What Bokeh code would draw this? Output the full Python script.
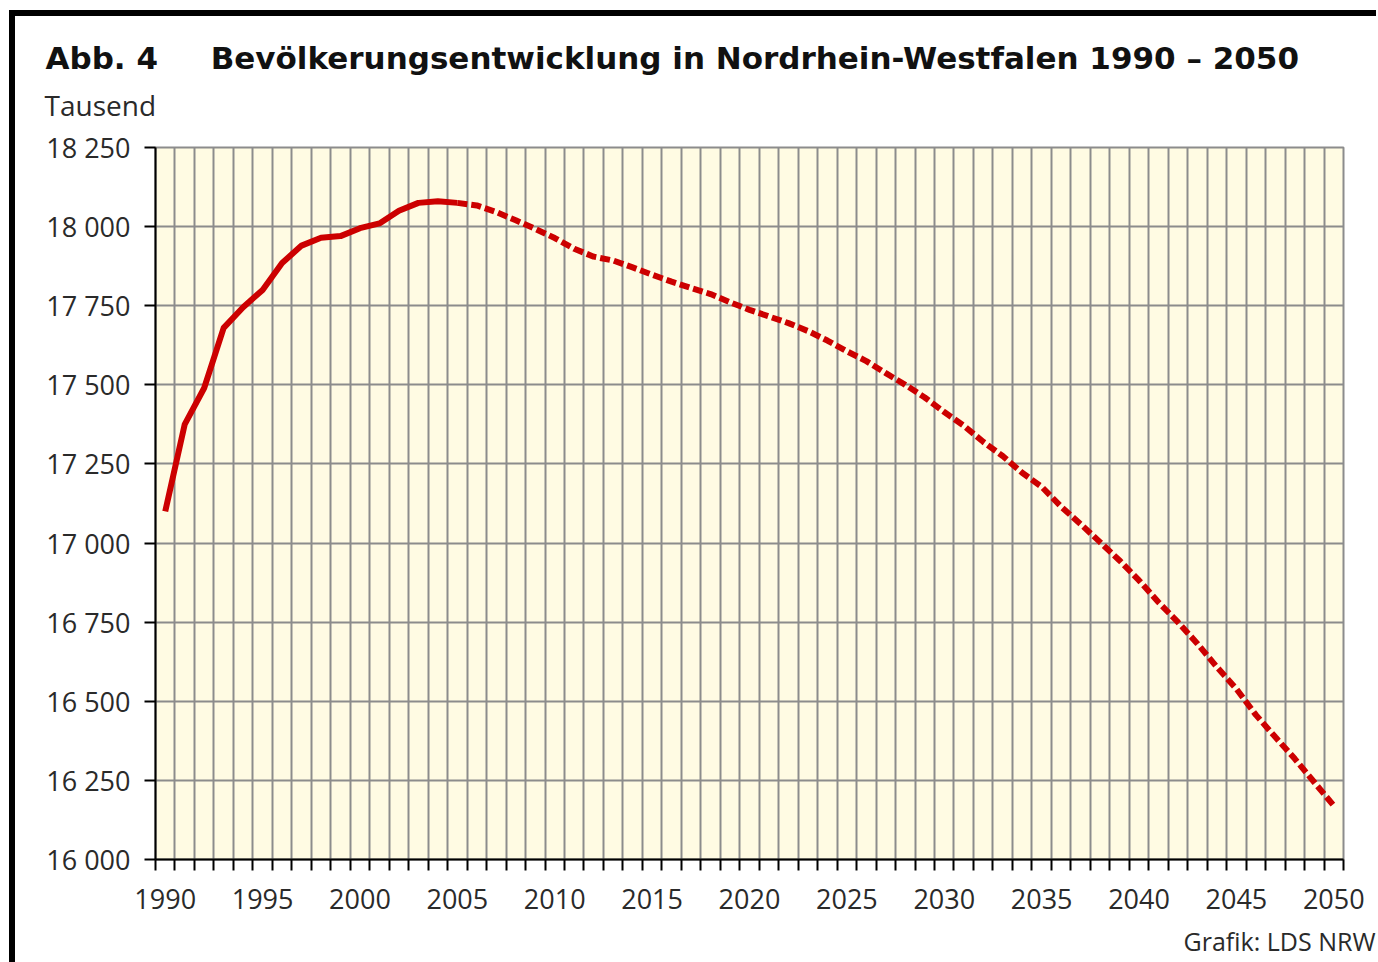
from bokeh.plotting import figure
from bokeh.models import FixedTicker, Range1d, ColumnDataSource, Title
from bokeh.embed import file_html
from bokeh.resources import INLINE

# ---- data ----
years = list(range(1990, 2051))
population = [
    17100, 17375, 17490, 17680, 17745, 17800, 17885, 17940, 17965, 17970,
    17995, 18010, 18050, 18075, 18080, 18075, 18067, 18046, 18020, 17993,
    17964, 17930, 17905, 17893, 17871, 17848, 17826, 17806, 17787, 17761,
    17737, 17716, 17695, 17670, 17640, 17606, 17575, 17537, 17500, 17460,
    17414, 17371, 17320, 17275, 17222, 17178, 17115, 17060, 17003, 16945,
    16882, 16813, 16750, 16682, 16608, 16539, 16457, 16387, 16318, 16244,
    16170,
]
projection_start = 2005
x_label_years = [1990, 1995, 2000, 2005, 2010, 2015, 2020, 2025, 2030, 2035, 2040, 2045, 2050]
y_ticks = [16000, 16250, 16500, 16750, 17000, 17250, 17500, 17750, 18000, 18250]
y_tick_labels = ["16 000", "16 250", "16 500", "16 750", "17 000", "17 250", "17 500", "17 750", "18 000", "18 250"]

title_prefix = "Abb. 4"
title_text = "Bevölkerungsentwicklung in Nordrhein-Westfalen 1990 – 2050"
unit_text = "Tausend"
source_text = "Grafik: LDS NRW"

# ---- build ----
split = years.index(projection_start)
src_actual = ColumnDataSource(dict(x=years[:split + 1], y=population[:split + 1]))
src_proj = ColumnDataSource(dict(x=years[split:], y=population[split:]))

boundaries = [y - 0.5 for y in years] + [years[-1] + 0.5]

FONT = "Open Sans"
TITLE_FONT = "DejaVu Sans"
GRID = "#8c8c8c"
TXT = "#2a2a2a"

p = figure(
    frame_width=1188, frame_height=712,
    x_range=Range1d(boundaries[0], boundaries[-1]),
    y_range=Range1d(y_ticks[0], y_ticks[-1]),
    output_backend="svg", toolbar_location=None,
    min_border_left=140, min_border_right=33, min_border_top=131, min_border_bottom=100,
    background_fill_color="#FFFBE3", border_fill_color="white",
    outline_line_color=GRID, outline_line_width=2,
)
p.styles = {"border-left": "6px solid black", "border-top": "6px solid black",
            "margin-left": "9px", "margin-top": "10px"}

# titles: p.title is the outermost line, added titles sit nearer the frame
p.title.text = title_prefix + "\u2003\u2002\u2009" + title_text
p.title.text_font = TITLE_FONT
p.title.text_font_style = "bold"
p.title.text_font_size = "31px"
p.title.text_color = "#111111"
p.title.align = "left"
p.title.offset = -110
p.title.standoff = -32

unit = Title(text=unit_text, text_font=FONT, text_font_style="normal",
             text_font_size="28px", text_color=TXT, align="left", offset=-111, standoff=48)
p.add_layout(unit, "above")

src_title = Title(text=source_text, text_font=FONT, text_font_style="normal",
                  text_font_size="25px", text_color=TXT, align="right", offset=-32, standoff=21)
p.add_layout(src_title, "below")

# grids
p.xgrid.ticker = FixedTicker(ticks=boundaries)
p.ygrid.ticker = FixedTicker(ticks=y_ticks)
for g in (p.xgrid, p.ygrid):
    g.grid_line_color = GRID
    g.grid_line_width = 2

# x axis
p.xaxis.ticker = FixedTicker(ticks=x_label_years, minor_ticks=boundaries)
p.xaxis.major_tick_out = 0
p.xaxis.major_tick_in = 0
p.xaxis.minor_tick_out = 11
p.xaxis.minor_tick_in = 0
p.xaxis.minor_tick_line_color = "black"
p.xaxis.minor_tick_line_width = 2
p.xaxis.major_label_standoff = 18

# y axis
p.yaxis.ticker = FixedTicker(ticks=y_ticks)
p.yaxis.major_label_overrides = {t: l for t, l in zip(y_ticks, y_tick_labels)}
p.yaxis.major_tick_out = 11
p.yaxis.major_tick_in = 0
p.yaxis.minor_tick_out = 0
p.yaxis.minor_tick_in = 0
p.yaxis.major_tick_line_width = 2
p.yaxis.major_label_standoff = 14

for ax in (p.xaxis, p.yaxis):
    ax.axis_line_color = "black"
    ax.axis_line_width = 2
    ax.major_tick_line_color = "black"
    ax.major_label_text_font = FONT
    ax.major_label_text_font_size = "27px"
    ax.major_label_text_color = TXT

# lines
p.line("x", "y", source=src_actual, line_color="#CC0000", line_width=6, line_join="round")
p.line("x", "y", source=src_proj, line_color="#CC0000", line_width=6, line_dash="10 4")

open("out.html", "w").write(file_html(p, INLINE))
